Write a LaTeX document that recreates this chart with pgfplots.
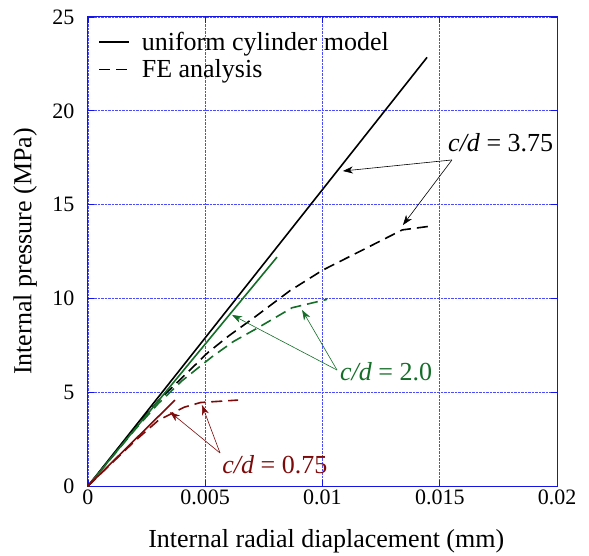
\documentclass[border=0pt]{standalone}
\usepackage{fontspec}
\setmainfont{Liberation Serif}
\usepackage{pgfplots}
\pgfplotsset{compat=1.18}
\usetikzlibrary{arrows.meta}
\definecolor{fegreen}{RGB}{20,110,40}
\definecolor{fered}{RGB}{125,10,10}
\definecolor{frame}{RGB}{20,20,230}
\newcommand{\labfont}{\fontsize{26}{30}\selectfont}
\begin{document}
\begin{tikzpicture}
\begin{axis}[
    scale only axis,
    width=469pt, height=469pt,
    xmin=0, xmax=0.02, ymin=0, ymax=25,
    xtick={0,0.005,0.01,0.015,0.02},
    ytick={0,5,10,15,20,25},
    scaled x ticks=false,
    xticklabel style={/pgf/number format/fixed, /pgf/number format/precision=3},
    yticklabel style={xshift=-10pt},
    /pgf/number format/assume math mode=true,
    tick label style={font=\fontsize{22}{26}\selectfont},
    label style={font=\labfont},
    grid=major,
    major grid style={blue!70, densely dotted, line width=0.9pt},
    axis line style={draw=frame, line width=1pt},
    tick style={draw=frame, line width=0.8pt},
    tick align=inside,
    major tick length=6pt,
    xlabel={Internal radial diaplacement (mm)},
    ylabel={Internal pressure (MPa)},
    xlabel style={at={(axis description cs:0.508,-0.117)}, anchor=center},
    ylabel style={at={(axis description cs:-0.134,0.5)}, anchor=center},
    legend style={draw=none, fill=none, at={(axis description cs:0.015,0.975)}, anchor=north west,
        font=\labfont, row sep=6pt, nodes={inner sep=1pt}},
    legend cell align=left,
    legend image code/.code={\draw[#1, line width=1.6pt] (0pt,0pt) -- (30pt,0pt); \path (41pt,0pt);},
]
\coordinate (O) at (rel axis cs:0,0);
% c/d = 3.75
\addplot[black, line width=1.6pt] coordinates {(0,0) (0.01446,22.85)};
\addlegendentry{uniform cylinder model}
\addplot[black, line width=1.6pt, dash pattern=on 11pt off 6pt] coordinates {
(0,0) (0.002,3.1) (0.003,4.55) (0.0042,6.0) (0.0051,7.1) (0.006,8.0) (0.007,8.9)
(0.0086,10.4) (0.0100,11.5) (0.0119,12.7) (0.0134,13.65) (0.0146,13.85)};
\addlegendentry{FE analysis}
% c/d = 2.0
\addplot[fegreen, line width=1.6pt] coordinates {(0,0) (0.00806,12.2)};
\addplot[fegreen, line width=1.6pt, dash pattern=on 11pt off 6pt] coordinates {
(0,0) (0.002,3.0) (0.003,4.4) (0.004,5.6) (0.0053,6.9) (0.0062,7.7) (0.0072,8.4)
(0.0087,9.5) (0.0102,9.95)};
% c/d = 0.75
\addplot[fered, line width=1.6pt] coordinates {(0,0) (0.00371,4.58)};
\addplot[fered, line width=1.6pt, dash pattern=on 11pt off 6pt] coordinates {
(0,0) (0.001,1.2) (0.002,2.4) (0.003,3.5) (0.0041,4.2) (0.0048,4.45) (0.0064,4.58)};
% annotations
\node[black, font=\labfont] at (axis cs:0.0176,18.3) {\textit{c/d} = 3.75};
\draw[black, line width=0.6pt, -{Stealth[length=10pt,width=7pt,inset=3pt]}] (axis cs:0.01552,17.38) -- (axis cs:0.01087,16.79);
\draw[black, line width=0.6pt, -{Stealth[length=10pt,width=7pt,inset=3pt]}] (axis cs:0.01552,17.38) -- (axis cs:0.01343,13.91);
\node[fegreen, font=\labfont] at (axis cs:0.01271,6.08) {\textit{c/d} = 2.0};
\draw[fegreen, line width=0.6pt, -{Stealth[length=10pt,width=7pt,inset=3pt]}] (axis cs:0.01062,6.18) -- (axis cs:0.00614,9.12);
\draw[fegreen, line width=0.6pt, -{Stealth[length=10pt,width=7pt,inset=3pt]}] (axis cs:0.01062,6.18) -- (axis cs:0.00913,9.38);
\node[fered, font=\labfont] at (axis cs:0.00797,1.12) {\textit{c/d} = 0.75};
\draw[fered, line width=0.6pt, -{Stealth[length=10pt,width=7pt,inset=3pt]}] (axis cs:0.00563,1.76) -- (axis cs:0.0035,3.94);
\draw[fered, line width=0.6pt, -{Stealth[length=10pt,width=7pt,inset=3pt]}] (axis cs:0.00563,1.76) -- (axis cs:0.00486,4.32);
\end{axis}
\path (O) ++(-88pt,-68pt) rectangle ++(589pt,554pt);
\end{tikzpicture}
\end{document}
